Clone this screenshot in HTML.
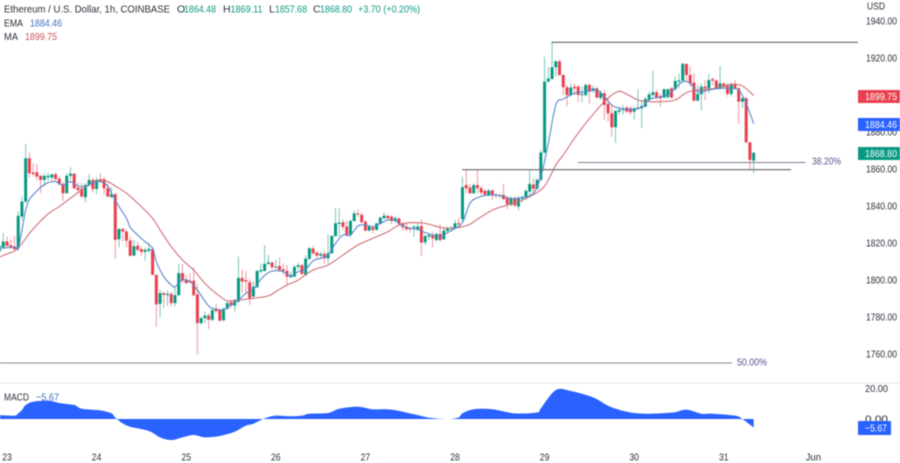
<!DOCTYPE html>
<html lang="en">
<head>
<meta charset="utf-8">
<title>Ethereum / U.S. Dollar chart</title>
<style>
html,body{margin:0;padding:0;background:#fff;width:900px;height:463px;overflow:hidden}
svg{display:block;font-family:"Liberation Sans",sans-serif;filter:blur(.42px)}
text{font-size:10.5px;fill:#2a2e39}
</style>
</head>
<body>
<svg id="chart" xmlns="http://www.w3.org/2000/svg" width="900" height="463" viewBox="0 0 900 463">
<rect x="0" y="0" width="900" height="463" fill="#fff"/>
<line x1="0" x2="900" y1="383" y2="383" stroke="#e8e8ec" stroke-width="1"/>
<g id="candles"></g>
<path id="ma-line" fill="none" stroke="#cf7078" stroke-width="1.1"/>
<path id="ema-line" fill="none" stroke="#5a88cc" stroke-width="1.1"/>
<path id="macd-area" fill="#2962ff"/>

<line x1="551.5" x2="858" y1="42.3" y2="42.3" stroke="#666" stroke-width="1.1"/>
<line x1="462" x2="791" y1="169.7" y2="169.7" stroke="#666" stroke-width="1.1"/>
<line x1="578" x2="805.5" y1="162.5" y2="162.5" stroke="#857a92" stroke-width="1"/>
<line x1="0" x2="732" y1="363" y2="363" stroke="#8a8490" stroke-width="1"/>
<text x="812" y="164.5" textLength="29" lengthAdjust="spacingAndGlyphs" style="fill:#5e4a8c">38.20%</text>
<text x="737" y="365.5" textLength="30" lengthAdjust="spacingAndGlyphs" style="fill:#5e4a8c">50.00%</text>

<g>
<text x="4" y="12.5" textLength="166" lengthAdjust="spacingAndGlyphs">Ethereum / U.S. Dollar, 1h, COINBASE</text>
<text x="177" y="12.5">O</text>
<text x="184" y="12.5" textLength="32" lengthAdjust="spacingAndGlyphs" style="fill:#089981">1864.48</text>
<text x="223" y="12.5">H</text>
<text x="230.5" y="12.5" textLength="32" lengthAdjust="spacingAndGlyphs" style="fill:#089981">1869.11</text>
<text x="269" y="12.5">L</text>
<text x="275" y="12.5" textLength="32" lengthAdjust="spacingAndGlyphs" style="fill:#089981">1857.68</text>
<text x="313" y="12.5">C</text>
<text x="320" y="12.5" textLength="32" lengthAdjust="spacingAndGlyphs" style="fill:#089981">1868.80</text>
<text x="358" y="12.5" textLength="62" lengthAdjust="spacingAndGlyphs" style="fill:#089981">+3.70 (+0.20%)</text>
<text x="4" y="26.5" textLength="19" lengthAdjust="spacingAndGlyphs">EMA</text>
<text x="30" y="26.5" textLength="32" lengthAdjust="spacingAndGlyphs" style="fill:#3f6fc0">1884.46</text>
<text x="4" y="40" textLength="14" lengthAdjust="spacingAndGlyphs">MA</text>
<text x="25" y="40" textLength="32" lengthAdjust="spacingAndGlyphs" style="fill:#c9525e">1899.75</text>
<text x="4" y="400.5" textLength="25" lengthAdjust="spacingAndGlyphs">MACD</text>
<text x="36" y="400.5" textLength="23" lengthAdjust="spacingAndGlyphs" style="fill:#3f6fc0">−5.67</text>
</g>

<text x="867" y="9.5" textLength="18" lengthAdjust="spacingAndGlyphs">USD</text>
<g id="price-axis"></g>
<g id="macd-axis"></g>
<g id="time-axis"></g>

<g>
<rect x="858" y="90" width="42" height="13" fill="#e8404f"/>
<text x="865" y="100" textLength="32" lengthAdjust="spacingAndGlyphs" style="fill:#fff">1899.75</text>
</g>
<g>
<rect x="858" y="118" width="42" height="13" fill="#2962ff"/>
<text x="865" y="128" textLength="32" lengthAdjust="spacingAndGlyphs" style="fill:#fff">1884.46</text>
</g>
<g>
<rect x="858" y="147" width="42" height="13" fill="#089981"/>
<text x="865" y="157" textLength="32" lengthAdjust="spacingAndGlyphs" style="fill:#fff">1868.80</text>
</g>
<g>
<rect x="858" y="421" width="33" height="14" fill="#2962ff"/>
<text x="865" y="431.5" textLength="22" lengthAdjust="spacingAndGlyphs" style="fill:#fff">−5.67</text>
</g>
</svg>
<script>
const opens = [
1815.4,1817.7,1820.8,1818.8,1818.1,1817.2,1834.3,1842.4,1865.8,1858.1,
1858.2,1856.3,1854.1,1855.5,1855.4,1857.2,1854.8,1851.9,1846.9,1856.3,
1857.5,1849.9,1849.4,1844.7,1851.4,1854.1,1849.2,1854.5,1854.5,1849.6,
1844.9,1846.4,1822.1,1827.5,1826.2,1821.3,1813.2,1818.5,1816.7,1815.2,
1815.8,1816.7,1802.8,1787.1,1792.9,1791.8,1792.5,1787.5,1791.8,1803.7,
1800.1,1799.6,1799.6,1792.2,1776.7,1779.4,1780.8,1778.5,1784.6,1783.7,
1778.3,1784.4,1787.9,1786.2,1788.3,1801.1,1800.0,1798.8,1791.0,1796.1,
1804.6,1804.9,1808.7,1809.4,1806.7,1807.6,1805.8,1804.9,1801.5,1801.8,
1807.1,1808.0,1802.9,1811.4,1817.0,1814.8,1813.2,1814.1,1811.7,1814.5,
1823.8,1830.3,1831.2,1828.9,1824.4,1831.9,1836.0,1835.2,1831.5,1826.7,
1828.3,1827.1,1830.3,1833.4,1834.6,1834.2,1832.1,1833.2,1830.7,1828.9,
1828.0,1828.3,1827.1,1829.2,1820.4,1823.4,1824.0,1821.6,1824.9,1822.0,
1826.5,1827.6,1828.3,1830.7,1832.9,1851.4,1850.0,1846.9,1851.3,1849.6,
1848.2,1846.0,1848.4,1846.0,1845.3,1846.0,1844.2,1840.6,1844.2,1839.7,
1843.9,1844.6,1847.8,1851.6,1849.4,1854.1,1868.9,1907.2,1908.7,1915.0,
1918.2,1910.8,1904.2,1900.0,1904.5,1904.5,1900.0,1900.0,1905.4,1902.2,
1903.6,1898.4,1900.9,1895.2,1890.1,1882.6,1891.0,1891.9,1893.2,1892.8,
1891.0,1892.5,1892.8,1893.7,1897.3,1900.0,1901.5,1899.1,1898.6,1898.8,
1903.6,1903.1,1907.2,1907.8,1916.8,1910.8,1906.7,1897.0,1900.4,1904.5,
1903.6,1908.5,1907.8,1904.0,1906.3,1904.9,1900.6,1906.0,1903.6,1896.4,
1898.2,1874.4,1864.48
];
const highs = [
1819.5,1825.3,1823.5,1821.7,1823.9,1837.0,1845.1,1873.5,1868.9,1863.1,
1862.7,1856.8,1857.7,1858.1,1857.7,1858.1,1856.3,1853.2,1857.7,1860.9,
1857.7,1852.7,1852.3,1852.7,1857.2,1855.0,1855.5,1857.7,1855.5,1852.3,
1850.5,1846.9,1828.0,1828.5,1827.5,1823.5,1821.7,1820.8,1818.1,1817.7,
1820.3,1817.7,1802.8,1795.0,1793.8,1794.3,1793.8,1796.5,1808.7,1808.7,
1802.8,1803.7,1806.9,1797.9,1780.3,1783.0,1782.1,1784.8,1787.1,1784.8,
1785.2,1788.4,1789.3,1789.7,1812.7,1805.8,1804.9,1800.4,1799.2,1805.4,
1809.0,1818.9,1813.5,1810.0,1810.9,1812.1,1809.0,1808.1,1804.6,1808.1,
1809.4,1808.7,1813.2,1817.7,1818.4,1815.4,1815.4,1815.9,1824.7,1824.4,
1838.7,1838.7,1832.8,1832.1,1832.8,1837.8,1838.2,1836.4,1832.5,1829.7,
1829.2,1831.0,1834.3,1836.6,1835.7,1835.2,1834.6,1833.9,1831.5,1830.7,
1828.9,1829.7,1830.7,1832.8,1824.4,1825.6,1826.1,1825.6,1830.1,1827.9,
1828.9,1829.2,1832.5,1833.4,1855.9,1859.5,1852.0,1852.3,1859.5,1850.9,
1849.1,1849.1,1849.1,1846.9,1846.9,1852.0,1845.5,1845.5,1845.5,1845.5,
1846.0,1849.1,1859.5,1855.0,1855.0,1870.3,1920.7,1915.3,1928.5,1918.9,
1919.3,1911.4,1905.4,1906.3,1906.3,1905.4,1904.5,1906.3,1906.3,1905.4,
1904.5,1902.7,1902.7,1898.2,1894.6,1891.9,1893.7,1894.6,1894.1,1894.1,
1893.7,1903.1,1897.3,1899.1,1901.8,1913.2,1902.7,1900.9,1903.6,1903.6,
1904.2,1909.9,1911.4,1917.5,1917.1,1915.7,1911.7,1905.4,1906.3,1908.1,
1911.4,1909.6,1908.5,1915.7,1906.7,1906.3,1906.7,1908.1,1904.5,1898.8,
1899.1,1874.8,1869.11
];
const lows = [
1813.6,1817.2,1817.7,1817.0,1816.3,1815.9,1832.5,1841.5,1855.4,1855.9,
1853.7,1846.9,1850.5,1853.7,1853.6,1853.7,1850.9,1842.6,1846.5,1854.1,
1849.1,1846.9,1844.7,1841.9,1850.5,1847.3,1846.5,1852.3,1846.0,1844.7,
1844.2,1811.3,1817.7,1820.8,1817.7,1812.7,1813.1,1815.4,1813.1,1810.5,
1814.5,1802.8,1774.9,1779.9,1784.8,1785.7,1785.7,1785.7,1791.5,1798.3,
1797.9,1798.3,1791.1,1759.6,1775.8,1776.7,1773.5,1777.6,1782.1,1777.6,
1777.6,1783.9,1784.8,1783.0,1787.4,1792.9,1792.9,1786.6,1790.7,1795.6,
1803.7,1804.6,1808.2,1805.4,1804.9,1805.1,1802.8,1796.8,1801.0,1801.5,
1805.4,1802.8,1802.2,1810.9,1813.5,1811.7,1811.7,1808.7,1808.7,1814.1,
1823.1,1823.4,1827.0,1823.4,1822.9,1831.6,1834.2,1830.7,1826.2,1826.2,
1825.2,1826.7,1829.8,1832.5,1832.1,1830.1,1831.0,1828.9,1826.7,1826.7,
1825.6,1823.4,1826.7,1813.0,1818.9,1821.6,1817.7,1820.7,1820.7,1821.6,
1825.2,1826.2,1827.4,1828.3,1831.6,1846.9,1846.6,1846.6,1846.9,1846.0,
1845.7,1845.1,1843.3,1844.2,1844.2,1843.3,1838.3,1839.7,1839.4,1837.9,
1841.9,1843.3,1845.1,1846.9,1848.7,1853.8,1868.2,1906.9,1908.1,1909.9,
1910.3,1900.0,1893.8,1899.1,1900.0,1896.4,1895.9,1899.1,1895.2,1901.3,
1898.2,1897.3,1886.5,1885.6,1877.5,1874.3,1889.2,1889.2,1890.1,1889.2,
1886.9,1891.9,1882.0,1893.3,1896.4,1899.1,1897.3,1893.7,1898.2,1898.2,
1898.2,1902.4,1903.6,1907.2,1907.2,1904.5,1896.4,1896.4,1891.5,1897.3,
1900.9,1905.4,1903.1,1902.7,1903.6,1899.1,1899.1,1902.7,1884.3,1892.8,
1873.9,1859.5,1857.68
];
const closes = [
1818.5,1820.8,1818.5,1817.6,1816.7,1834.7,1842.4,1865.8,1857.7,1857.3,
1855.9,1854.1,1856.3,1856.3,1857.0,1854.6,1851.8,1846.9,1856.4,1857.5,
1849.6,1848.7,1845.1,1851.4,1854.1,1849.2,1854.1,1853.6,1849.6,1845.1,
1846.4,1821.7,1827.6,1826.2,1821.3,1813.1,1818.3,1816.3,1815.2,1816.3,
1816.8,1802.8,1786.8,1792.9,1792.0,1792.5,1787.5,1791.8,1803.7,1799.7,
1798.3,1798.7,1791.8,1776.7,1779.4,1780.8,1778.5,1783.7,1783.2,1778.0,
1784.4,1787.5,1786.2,1789.3,1801.1,1799.2,1799.2,1790.2,1796.4,1804.9,
1805.4,1808.7,1809.6,1806.9,1807.2,1805.4,1804.9,1801.8,1802.8,1807.1,
1808.0,1803.3,1811.6,1817.2,1814.5,1813.2,1814.1,1811.7,1814.5,1823.8,
1830.7,1831.0,1828.7,1824.4,1831.9,1836.0,1835.5,1831.2,1826.7,1828.9,
1827.1,1830.6,1833.7,1834.8,1833.4,1831.9,1833.4,1830.3,1828.5,1827.4,
1827.4,1828.9,1828.9,1820.2,1823.8,1824.2,1822.5,1824.9,1821.6,1826.7,
1827.9,1828.3,1830.7,1830.1,1850.2,1849.6,1846.9,1851.3,1849.6,1847.3,
1846.2,1848.4,1845.7,1845.5,1845.9,1843.7,1841.0,1844.2,1840.3,1844.2,
1844.8,1848.2,1851.9,1849.3,1854.1,1868.9,1907.2,1908.9,1915.0,1918.2,
1910.8,1904.2,1900.0,1904.0,1903.6,1900.0,1900.5,1905.4,1901.8,1903.6,
1898.6,1901.3,1894.6,1890.1,1882.6,1891.4,1891.9,1892.8,1891.0,1890.7,
1892.8,1893.2,1894.1,1897.9,1900.3,1901.5,1898.8,1898.2,1903.1,1903.1,
1898.6,1907.6,1907.8,1916.8,1910.8,1906.3,1897.0,1900.6,1904.5,1903.6,
1908.1,1907.8,1903.6,1906.3,1904.5,1900.6,1906.0,1903.6,1896.4,1898.2,
1874.4,1864.9,1868.80
];
const emaBars = [0,4,5,6,7,8,9,11,13,15,17,19,21,23,25,27,29,30,32,34,35,37,39,41,42,44,46,47,49,51,53,56,58,60,62,64,66,68,70,72,74,76,78,80,82,84,86,88,90,92,94,96,98,100,102,104,106,108,110,112,114,116,118,120,122,124,126,128,131,134,137,140,143,145,147,149,151,154,157,160,162,164,166,169,172,174,177,179,181,183,185,187,190,193,196,198,200,202];
const emaValues = [1817.1,1817.7,1817.1,1827.0,1837.9,1843.6,1846.0,1850.1,1852.6,1853.2,1851.4,1853.2,1850.8,1850.5,1852.6,1853.2,1850.8,1846.9,1839.7,1833.4,1828.5,1824.3,1820.7,1817.1,1809.9,1801.8,1797.3,1796.4,1800.0,1799.1,1794.6,1786.0,1784.2,1783.8,1786.5,1789.2,1792.8,1795.0,1800.4,1804.0,1805.0,1804.5,1802.2,1804.5,1805.8,1810.4,1811.7,1813.5,1819.8,1824.3,1824.3,1829.2,1829.7,1828.8,1830.6,1832.4,1832.1,1829.2,1827.9,1827.4,1825.6,1824.3,1823.4,1825.6,1827.9,1831.0,1841.4,1844.5,1845.9,1845.6,1844.1,1844.5,1846.9,1855.9,1873.9,1894.6,1897.8,1900.9,1901.8,1902.7,1899.1,1894.6,1892.8,1892.3,1893.3,1897.5,1899.1,1900.0,1903.6,1907.2,1906.3,1901.8,1902.7,1903.6,1903.6,1902.7,1895.5,1884.46];
const maBars = [0,2,4,6,8,10,13,16,19,22,24,27,29,31,34,37,41,43,46,49,52,55,58,61,64,68,72,74,77,80,84,88,92,96,100,104,107,110,114,118,121,124,126,128,132,136,140,145,147,149,151,154,157,160,162,164,166,168,171,174,177,181,184,187,190,193,196,199,202];
const maValues = [1812.3,1814.1,1815.7,1819.8,1825.2,1829.8,1835.7,1839.7,1844.2,1848.7,1851.4,1853.7,1853.2,1850.8,1846.9,1841.5,1833.4,1827.0,1818.0,1810.8,1805.4,1798.2,1792.8,1788.7,1789.2,1790.1,1791.4,1793.7,1797.3,1800.0,1805.4,1808.1,1813.5,1818.9,1822.5,1826.1,1829.7,1831.0,1830.6,1828.5,1827.9,1828.8,1830.1,1832.8,1837.8,1840.5,1843.2,1848.7,1854.1,1862.2,1867.6,1876.6,1884.7,1891.9,1896.4,1900.0,1902.0,1900.5,1897.3,1896.4,1896.4,1897.3,1901.3,1902.7,1903.1,1904.1,1905.8,1904.9,1899.75];
const macdBars = [0,4,5,6,7,9,13,16,20,22,27,30,31,33,35,40,43,46,49,52,55,59,63,66,68,71,74,78,81,83,88,91,96,100,105,111,115,120,123,124,127,132,138,144,145,149,153,159,164,171,180,184,188,191,197,199,202];
const macdValues = [2.6,2.2,3.7,5.9,9.2,11.4,12.1,10.6,9.2,6.8,5.7,3.7,0.9,-2.9,-5.1,-7.9,-12.1,-13.9,-12.1,-10.6,-12.1,-11.2,-8.4,-4.4,-3.1,0.4,2.2,1.8,2.2,3.5,4.0,6.8,8.1,6.4,6.2,3.1,0.9,0,1.1,3.7,6.4,6.4,3.7,4.4,7.0,19.1,18.5,14.3,7.7,3.7,4.2,6.2,3.5,3.5,2.2,0,-5.67];
const priceTicks = ["1940.00","1920.00","1880.00","1860.00","1840.00","1820.00","1800.00","1780.00","1760.00"];
const macdTicks = ["20.00","0.00"];
const dayLabels = ["23","24","25","26","27","28","29","30","31","Jun"];

const NS = 'http://www.w3.org/2000/svg';
const UP = '#089981', DOWN = '#e8404f';
const xOf = i => -0.47 + 3.7333 * i;
const yPrice = p => 58 + (1920 - p) * 1.85;
const yMacd = v => 419 - v * 1.515;
const svgEl = tag => document.createElementNS(NS, tag);

const candleGroup = document.getElementById('candles');
opens.forEach((open, i) => {
  const close = closes[i];
  const color = close >= open ? UP : DOWN;
  const x = xOf(i);
  const wick = svgEl('rect');
  
  
  wick.setAttribute('x', x - 0.5);
  wick.setAttribute('width', 1);
  wick.setAttribute('y', yPrice(highs[i]));
  wick.setAttribute('height', Math.max(0.5, yPrice(lows[i]) - yPrice(highs[i])));
  wick.setAttribute('fill', color);
  wick.setAttribute('opacity', 0.55);
  candleGroup.appendChild(wick);
  const body = svgEl('rect');
  
  
  body.setAttribute('x', x - 1.5);
  body.setAttribute('width', 3);
  body.setAttribute('y', yPrice(Math.max(open, close)));
  body.setAttribute('height', Math.max(1, Math.abs(yPrice(open) - yPrice(close))));
  body.setAttribute('fill', color);
  candleGroup.appendChild(body);
});

// Smooth curve through the sampled readings (Catmull-Rom segments).
function curveThrough(pts) {
  let d = '';
  for (let i = 0; i < pts.length - 1; i++) {
    const p0 = pts[Math.max(0, i - 1)];
    const p1 = pts[i];
    const p2 = pts[i + 1];
    const p3 = pts[Math.min(pts.length - 1, i + 2)];
    const c1x = p1[0] + (p2[0] - p0[0]) / 6;
    const c1y = p1[1] + (p2[1] - p0[1]) / 6;
    const c2x = p2[0] - (p3[0] - p1[0]) / 6;
    const c2y = p2[1] - (p3[1] - p1[1]) / 6;
    d += 'C' + c1x.toFixed(2) + ',' + c1y.toFixed(2) + ' ' + c2x.toFixed(2) + ',' + c2y.toFixed(2) + ' ' + p2[0].toFixed(2) + ',' + p2[1].toFixed(2);
  }
  return d;
}
const seriesPoints = (bars, values, yFn) => bars.map((b, i) => [xOf(b), yFn(values[i])]);
const linePath = (bars, values) => {
  const pts = seriesPoints(bars, values, yPrice);
  return 'M' + pts[0][0].toFixed(2) + ',' + pts[0][1].toFixed(2) + curveThrough(pts);
};
document.getElementById('ema-line').setAttribute('d', linePath(emaBars, emaValues));
document.getElementById('ma-line').setAttribute('d', linePath(maBars, maValues));

const macdPts = seriesPoints(macdBars, macdValues, yMacd);
const macdStart = xOf(macdBars[0]).toFixed(2);
const macdEnd = xOf(macdBars[macdBars.length - 1]).toFixed(2);
document.getElementById('macd-area').setAttribute('d',
  'M' + macdStart + ',' + yMacd(0) + 'L' + macdPts[0][0].toFixed(2) + ',' + macdPts[0][1].toFixed(2) +
  curveThrough(macdPts) + 'L' + macdEnd + ',' + yMacd(0) + 'Z');

const priceAxis = document.getElementById('price-axis');
priceTicks.forEach(label => {
  const t = svgEl('text');
  
  
  t.setAttribute('x', 866);
  t.setAttribute('y', yPrice(parseFloat(label)) + 3.5);
  t.setAttribute('textLength', 31);
  t.setAttribute('lengthAdjust', 'spacingAndGlyphs');
  t.textContent = label;
  priceAxis.appendChild(t);
});

const macdAxis = document.getElementById('macd-axis');
macdTicks.forEach(label => {
  const t = svgEl('text');
  
  
  t.setAttribute('x', 865);
  t.setAttribute('y', yMacd(parseFloat(label)) + 3.3);
  t.setAttribute('textLength', 23);
  t.setAttribute('lengthAdjust', 'spacingAndGlyphs');
  t.textContent = label;
  macdAxis.appendChild(t);
});

const timeAxis = document.getElementById('time-axis');
dayLabels.forEach((label, d) => {
  const t = svgEl('text');
  
  
  t.setAttribute('x', xOf(2 + d * 24) - (label.length > 2 ? 7.8 : 4.8));
  t.setAttribute('y', 460.5);
  t.setAttribute('textLength', label.length > 2 ? 15.6 : 9.6);
  t.setAttribute('lengthAdjust', 'spacingAndGlyphs');
  t.textContent = label;
  timeAxis.appendChild(t);
});
</script>
</body>
</html>
